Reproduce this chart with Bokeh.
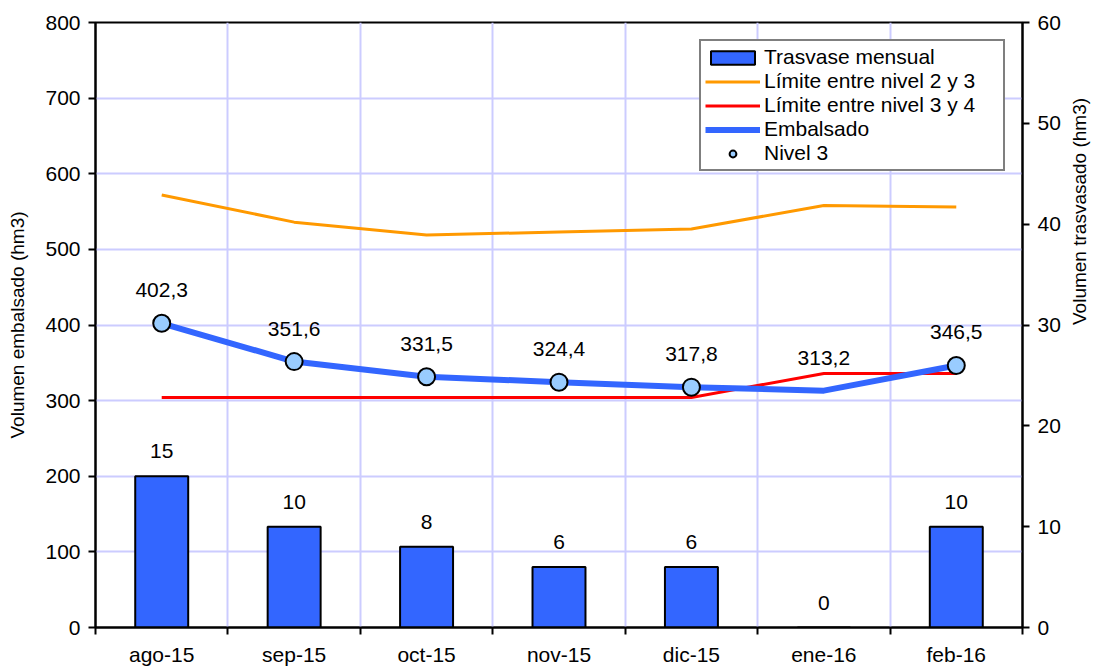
import math
from bokeh.plotting import figure
from bokeh.models import (Range1d, LinearAxis, FixedTicker, ColumnDataSource,
                          LabelSet, Legend, LegendItem)
from bokeh.core.properties import value
from bokeh.embed import file_html
from bokeh.resources import INLINE

# Monthly data (hm3)
meses = ["ago-15", "sep-15", "oct-15", "nov-15", "dic-15", "ene-16", "feb-16"]
trasvase = [15, 10, 8, 6, 6, 0, 10]
limite_2_3 = [572, 536, 519, 523, 527, 558, 556]
limite_3_4 = [304, 304, 304, 304, 304, 336, 336]
embalsado = [402.3, 351.6, 331.5, 324.4, 317.8, 313.2, 346.5]
nivel_3 = [402.3, 351.6, 331.5, 324.4, 317.8, float("nan"), 346.5]

FONT = "Liberation Sans"
FS = "21px"

x = list(range(len(meses)))
src = ColumnDataSource(dict(
    x=x,
    tras=trasvase,
    tras_lbl=[str(v) for v in trasvase],
    l23=limite_2_3,
    l34=limite_3_4,
    emb=embalsado,
    emb_lbl=[f"{v:.1f}".replace(".", ",") for v in embalsado],
    n3=nivel_3,
))

p = figure(width=1104, height=668,
           x_range=Range1d(-0.5, len(meses) - 0.5), y_range=Range1d(0, 800),
           output_backend="svg", toolbar_location=None,
           min_border_left=95, min_border_right=82,
           min_border_top=22, min_border_bottom=41)
p.extra_y_ranges = {"tras": Range1d(0, 60)}
p.background_fill_color = "white"
p.border_fill_color = "white"
p.outline_line_color = "black"
p.outline_line_width = 2

# grids: vertical lines between months, horizontal every 100
bounds = [i + 0.5 for i in x[:-1]]
p.xgrid.ticker = FixedTicker(ticks=bounds)
p.ygrid.ticker = FixedTicker(ticks=list(range(0, 801, 100)))
for g in (p.xgrid, p.ygrid):
    g.grid_line_color = "#CCCCFF"
    g.grid_line_width = 2

# bottom axis: labels at month centres, tick marks at month boundaries
xa = p.xaxis[0]
xa.ticker = FixedTicker(ticks=x, minor_ticks=[i - 0.5 for i in range(len(meses) + 1)])
xa.major_label_overrides = {i: m for i, m in enumerate(meses)}
xa.major_tick_out = 0
xa.major_tick_in = 0
xa.minor_tick_out = 7
xa.minor_tick_in = 0
xa.minor_tick_line_width = 2
xa.minor_tick_line_color = "black"
xa.major_label_standoff = 8

# left axis
ya = p.yaxis[0]
ya.ticker = FixedTicker(ticks=list(range(0, 801, 100)))
ya.axis_label = "Volumen embalsado (hm3)"
ya.major_label_standoff = 8
ya.axis_label_standoff = 14

# right axis
ra = LinearAxis(y_range_name="tras", ticker=FixedTicker(ticks=list(range(0, 61, 10))),
                axis_label="Volumen trasvasado (hm3)")
ra.major_label_standoff = 8
ra.axis_label_standoff = 16
ra.axis_label_orientation = math.pi / 2
p.add_layout(ra, "right")

for ax in (xa, ya, ra):
    ax.axis_line_color = "black"
    ax.axis_line_width = 2
    ax.major_tick_line_color = "black"
    ax.major_tick_line_width = 2
    ax.major_label_text_font = FONT
    ax.major_label_text_font_size = FS
    ax.major_label_text_color = "black"
    ax.axis_label_text_font = FONT
    ax.axis_label_text_font_size = "19px"
    ax.axis_label_text_font_style = "normal"
    ax.axis_label_text_color = "black"
for ax in (ya, ra):
    ax.major_tick_out = 7
    ax.major_tick_in = 0
    ax.minor_tick_line_color = None

# series
r_bar = p.vbar(x="x", top="tras", width=0.4, source=src, y_range_name="tras",
               fill_color="#3366FF", line_color="black", line_width=2)
r_l23 = p.line(x="x", y="l23", source=src, line_color="#FF9900", line_width=3)
r_l34 = p.line(x="x", y="l34", source=src, line_color="#FF0000", line_width=3)
r_emb = p.line(x="x", y="emb", source=src, line_color="#3366FF", line_width=6)
r_n3 = p.circle(x="x", y="n3", source=src, radius=8.5, radius_units="screen",
                fill_color="#99CCFF", line_color="black", line_width=2)

# value labels
p.add_layout(LabelSet(x="x", y="emb", text="emb_lbl", source=src,
                      y_offset=33, text_align="center", text_baseline="middle",
                      text_font=value(FONT), text_font_size=value(FS),
                      text_color="black"))
p.add_layout(LabelSet(x="x", y="tras", text="tras_lbl", source=src,
                      y_range_name="tras",
                      y_offset=25, text_align="center", text_baseline="middle",
                      text_font=value(FONT), text_font_size=value(FS),
                      text_color="black"))

legend = Legend(items=[
    LegendItem(label="Trasvase mensual", renderers=[r_bar]),
    LegendItem(label="Límite entre nivel 2 y 3", renderers=[r_l23]),
    LegendItem(label="Límite entre nivel 3 y 4", renderers=[r_l34]),
    LegendItem(label="Embalsado", renderers=[r_emb]),
    LegendItem(label="Nivel 3", renderers=[r_n3]),
], location=(604, 456))
legend.label_text_font = FONT
legend.label_text_font_size = FS
legend.label_text_color = "black"
legend.label_height = 20
legend.label_width = 235
legend.label_standoff = 4
legend.glyph_width = 55
legend.glyph_height = 17
legend.spacing = 0
legend.padding = 4
legend.margin = 0
legend.border_line_color = "black"
legend.border_line_width = 2
legend.background_fill_color = "white"
legend.background_fill_alpha = 1
p.add_layout(legend)

open("out.html", "w").write(file_html(p, INLINE))
